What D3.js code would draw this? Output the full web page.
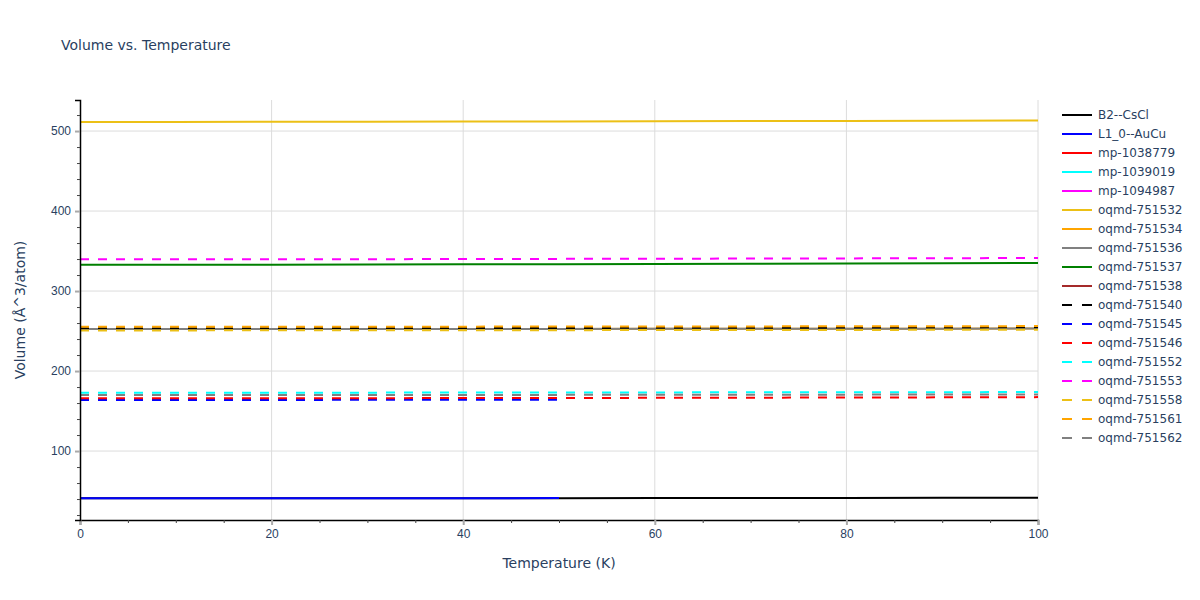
<!DOCTYPE html>
<html>
<head>
<meta charset="utf-8">
<script src="https://cdn.jsdelivr.net/npm/d3@7"></script>
<style>
  body { margin: 0; background: #fff; }
  svg { font-family: Verdana, "DejaVu Sans", sans-serif; }
</style>
</head>
<body>
<svg id="chart" width="1200" height="600"></svg>
<script>
// temperatures (K)
var temps = [0, 10, 20, 30, 40, 50, 60, 70, 80, 90, 100];
var tempsHalf = [0, 10, 20, 30, 40, 50];

// volumes per series (Å^3/atom)
var b2CsCl     = [40.9, 40.9, 40.95, 41.0, 41.05, 41.1, 41.2, 41.3, 41.4, 41.5, 41.6];
var l10AuCu    = [40.95, 40.95, 41.0, 41.05, 41.1, 41.15];
var mp1038779  = [41.0];
var mp1039019  = [173.0];
var mp1094987  = [339.6];
var oq751532   = [511.4, 511.4, 511.5, 511.6, 511.8, 512.0, 512.2, 512.4, 512.6, 512.9, 513.2];
var oq751534   = [252.5, 252.5, 252.5, 252.6, 252.6, 252.7, 252.8, 252.8, 252.9, 253.0, 253.1];
var oq751536   = [252.5, 252.5, 252.5, 252.6, 252.6, 252.7, 252.8, 252.8, 252.9, 253.0, 253.1];
var oq751537   = [332.9, 332.9, 333.0, 333.2, 333.4, 333.6, 333.8, 334.1, 334.4, 334.7, 335.0];
var oq751538   = [252.5];
var oq751540   = [253.5, 253.5, 253.6, 253.7, 253.8, 253.9, 254.0, 254.1, 254.3, 254.5, 254.7];
var oq751545   = [163.8, 163.8, 163.9, 164.0, 164.1, 164.2];
var oq751546   = [165.9, 165.9, 166.0, 166.1, 166.2, 166.3, 166.5, 166.7, 166.9, 167.1, 167.4];
var oq751552   = [172.9, 172.9, 173.0, 173.0, 173.1, 173.2, 173.3, 173.4, 173.5, 173.6, 173.7];
var oq751553   = [339.6, 339.6, 339.7, 339.8, 340.0, 340.2, 340.4, 340.6, 340.8, 341.0, 341.3];
var oq751558   = [250.8, 250.8, 250.9, 250.9, 251.0, 251.1, 251.2, 251.3, 251.4, 251.5, 251.7];
var oq751561   = [255.3, 255.3, 255.3, 255.4, 255.5, 255.6, 255.7, 255.8, 255.9, 256.0, 256.2];
var oq751562   = [170.0, 170.0, 170.0, 170.1, 170.1, 170.2, 170.3, 170.4, 170.5, 170.6, 170.7];

var seriesNames = ["B2--CsCl", "L1_0--AuCu", "mp-1038779", "mp-1039019", "mp-1094987",
    "oqmd-751532", "oqmd-751534", "oqmd-751536", "oqmd-751537", "oqmd-751538",
    "oqmd-751540", "oqmd-751545", "oqmd-751546", "oqmd-751552", "oqmd-751553",
    "oqmd-751558", "oqmd-751561", "oqmd-751562"];
var seriesValues = [b2CsCl, l10AuCu, mp1038779, mp1039019, mp1094987,
    oq751532, oq751534, oq751536, oq751537, oq751538,
    oq751540, oq751545, oq751546, oq751552, oq751553,
    oq751558, oq751561, oq751562];
var seriesColours = ["black", "blue", "red", "cyan", "magenta",
    "#ecc016", "orange", "gray", "green", "brown",
    "black", "blue", "red", "cyan", "magenta",
    "#ecc016", "orange", "gray"];
var seriesDashed = [false, false, false, false, false, false, false, false, false, false,
    true, true, true, true, true, true, true, true];

var xTicks = [0, 20, 40, 60, 80, 100];
var yTicks = [100, 200, 300, 400, 500];

var textColour = "#2a3f5f";

var margin = {top: 100, right: 162, bottom: 80, left: 80},
    width = 1200 - margin.left - margin.right,
    height = 600 - margin.top - margin.bottom;

var svg = d3.select("#chart");

var x = d3.scaleLinear().domain([0, 100]).range([0, width]);
var y = d3.scaleLinear().domain([13.8, 538.8]).range([height, 0]);

var g = svg.append("g")
    .attr("transform", "translate(" + margin.left + "," + margin.top + ")");

// grid
g.append("g").selectAll("line")
    .data(xTicks.slice(1))
    .enter().append("line")
    .attr("x1", d => x(d)).attr("x2", d => x(d))
    .attr("y1", 0).attr("y2", height)
    .attr("stroke", "#dcdcdc").attr("stroke-width", 1);
g.append("g").selectAll("line")
    .data(yTicks)
    .enter().append("line")
    .attr("x1", 0).attr("x2", width)
    .attr("y1", d => y(d)).attr("y2", d => y(d))
    .attr("stroke", "#dcdcdc").attr("stroke-width", 1);

// lines
var line = d3.line()
    .x(d => x(d[0]))
    .y(d => y(d[1]));

seriesNames.forEach(function (name, i) {
    var xs = seriesValues[i].length === 6 ? tempsHalf : temps;
    var pts = seriesValues[i].map((v, j) => [xs[j], v]);
    if (pts.length < 2) return;
    g.append("path")
        .datum(pts)
        .attr("fill", "none")
        .attr("stroke", seriesColours[i])
        .attr("stroke-width", 2)
        .attr("stroke-dasharray", seriesDashed[i] ? "9,9" : null)
        .attr("d", line);
});

// minor ticks
var xMinor = d3.range(0, 101, 5).filter(d => xTicks.indexOf(d) < 0);
var yMinor = d3.range(20, 539, 20).filter(d => yTicks.indexOf(d) < 0);

var xAxis = g.append("g")
    .attr("transform", "translate(0," + height + ")")
    .call(d3.axisBottom(x).tickValues(xTicks).tickSize(5).tickPadding(4));
xAxis.select(".domain").attr("stroke", "#000").attr("stroke-width", 1.5);
xAxis.selectAll(".tick line").attr("stroke", "#aaa").attr("stroke-width", 2);
xAxis.selectAll("text").attr("fill", textColour).style("font-size", "12px");
g.append("g")
    .attr("transform", "translate(0," + height + ")")
    .call(d3.axisBottom(x).tickValues(xMinor).tickSize(3).tickFormat(""))
    .call(a => a.select(".domain").remove())
    .selectAll(".tick line").attr("stroke", "#444");

var yAxis = g.append("g")
    .call(d3.axisLeft(y).tickValues(yTicks).tickSize(5).tickPadding(4));
yAxis.select(".domain").attr("stroke", "#000").attr("stroke-width", 1.5);
yAxis.selectAll(".tick line").attr("stroke", "#aaa").attr("stroke-width", 2);
yAxis.selectAll("text").attr("fill", textColour).style("font-size", "12px");
g.append("g")
    .call(d3.axisLeft(y).tickValues(yMinor).tickSize(3).tickFormat(""))
    .call(a => a.select(".domain").remove())
    .selectAll(".tick line").attr("stroke", "#444");

// titles
svg.append("text")
    .attr("x", 61).attr("y", 50)
    .attr("fill", textColour)
    .style("font-size", "14px")
    .text("Volume vs. Temperature");

svg.append("text")
    .attr("x", margin.left + width / 2).attr("y", 568)
    .attr("text-anchor", "middle")
    .attr("fill", textColour)
    .style("font-size", "14px")
    .text("Temperature (K)");

svg.append("text")
    .attr("transform", "translate(25," + (margin.top + height / 2) + ") rotate(-90)")
    .attr("text-anchor", "middle")
    .attr("fill", textColour)
    .style("font-size", "14px")
    .text("Volume (Å^3/atom)");

// legend
var legend = svg.append("g").attr("transform", "translate(1062,115)");
var items = legend.selectAll("g")
    .data(seriesNames)
    .enter().append("g")
    .attr("transform", (d, i) => "translate(0," + i * 19 + ")");
items.append("line")
    .attr("x1", 0).attr("x2", 30)
    .attr("stroke", (d, i) => seriesColours[i])
    .attr("stroke-width", 2)
    .attr("stroke-dasharray", (d, i) => seriesDashed[i] ? "10,10" : null);
items.append("text")
    .attr("x", 36).attr("dy", "0.35em")
    .attr("fill", textColour)
    .style("font-size", "12px")
    .text(d => d);
</script>
</body>
</html>
